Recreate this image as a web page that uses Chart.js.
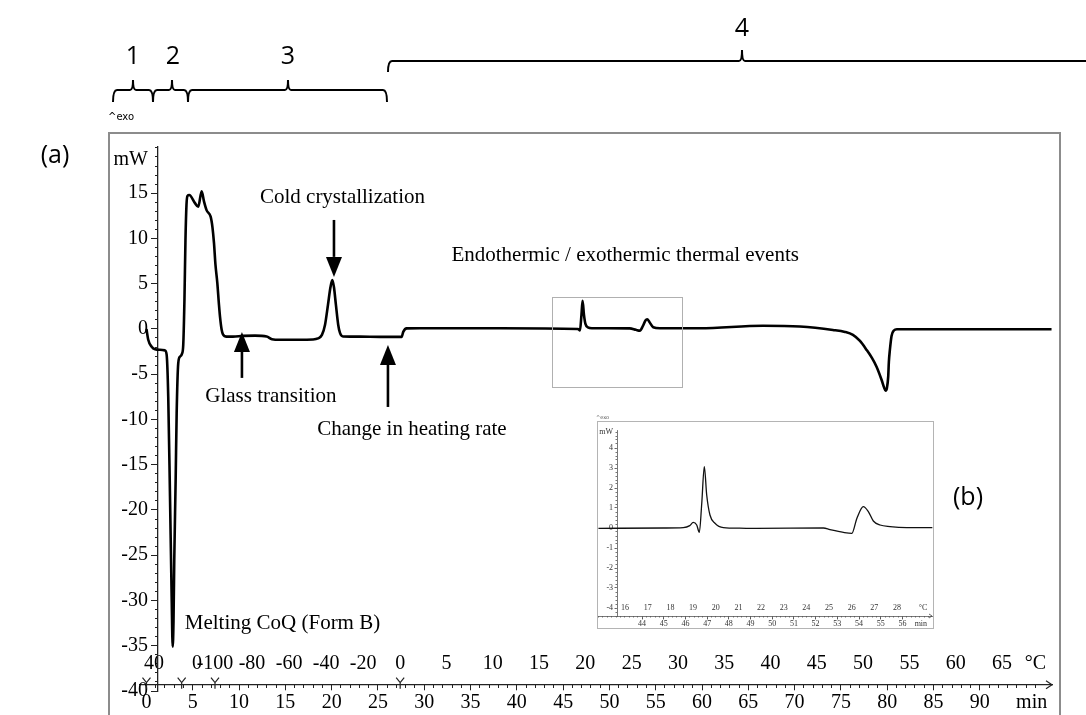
<!DOCTYPE html>
<html><head><meta charset="utf-8">
<script src="https://cdn.jsdelivr.net/npm/chart.js@4.4.1/dist/chart.umd.min.js"></script>
<style>
html,body{margin:0;padding:0;background:#fff;}
#wrap{position:relative;width:1086px;height:715px;overflow:hidden;background:#fff;}
#main{position:absolute;left:0;top:0;}
#insetBox{position:absolute;left:597px;top:421px;width:335px;height:206px;border:1px solid #b4b4b4;background:#fff;}
#inset{position:absolute;left:0;top:0;}
</style></head><body>
<div id="wrap">
<canvas id="main" width="1086" height="715"></canvas>
<div id="insetBox"><canvas id="inset" width="335" height="206"></canvas></div>
</div>
<script>
// ---------- main DSC curve (time in min, heat flow in mW) ----------
const timeMin = [0, 0.19, 0.56, 0.92, 1.46, 2.0, 2.18, 2.35, 2.54, 2.72, 2.83, 2.92, 3.0, 3.15, 3.26, 3.43, 3.62, 3.83, 3.97, 4.1, 4.21, 4.32, 4.43, 4.62, 5.24, 5.59, 5.96, 6.21, 6.5, 6.93, 7.13, 7.29, 7.45, 7.65, 7.83, 7.94, 8.12, 8.26, 8.66, 9.34, 10.42, 11.72, 12.98, 13.55, 14.42, 17.98, 18.52, 18.95, 19.28, 19.6, 19.87, 20.07, 20.25, 20.46, 20.71, 20.9, 21.22, 23.06, 25.22, 27.56, 27.73, 28.1, 29.54, 38.2, 46.6, 46.82, 46.98, 47.1, 47.25, 47.41, 47.68, 48.11, 52.2, 52.86, 53.29, 53.62, 53.89, 54.08, 54.32, 54.73, 55.45, 59.77, 66.58, 70.57, 74.14, 75.44, 76.3, 77.06, 77.78, 78.35, 78.85, 79.4, 79.64, 79.83, 79.97, 80.11, 80.18, 80.29, 80.47, 80.72, 81.05, 87.85, 97.75];
const heatFlowMW = [0, -1.2, -1.96, -2.24, -2.3, -2.37, -2.87, -7.5, -18.5, -29.6, -35.1, -32.2, -25.5, -16.7, -9.3, -3.8, -3.06, -2.76, -1.77, 3.2, 9.8, 13.7, 14.7, 14.8, 13.9, 13.5, 15.2, 14.1, 13.1, 12.4, 11.2, 9.5, 7.1, 5.1, 2.65, 1.36, -0.1, -0.6, -0.85, -0.85, -0.77, -0.74, -0.83, -1.14, -1.2, -1.16, -1.05, -0.66, 0.44, 2.65, 4.6, 5.4, 4.6, 2.65, 0.44, -0.44, -0.83, -0.85, -0.88, -0.88, -0.33, 0.06, 0.08, 0.08, 0, -0.17, 1.55, 3.1, 1.55, 0.55, 0.17, 0.08, 0.06, -0.1, -0.19, 0.33, 0.94, 1.07, 0.77, 0.19, 0.08, 0.08, 0.36, 0.27, -0.11, -0.33, -0.66, -1.33, -2.32, -3.2, -4.17, -5.64, -6.4, -6.82, -6.52, -5.27, -3.65, -2.32, -0.77, -0.17, -0.03, -0.03, -0.03];

// tick labels
const yTickValues = [-40, -35, -30, -25, -20, -15, -10, -5, 0, 5, 10, 15];
const xTickValues = [0, 5, 10, 15, 20, 25, 30, 35, 40, 45, 50, 55, 60, 65, 70, 75, 80, 85, 90];
// temperature program (time in min at which each temperature is reached)
const progTimeMin = [0.8, 5.45, 7.4, 27.4, 97.4];
const progTempC = [40, 0, -100, 0, 70];
const tempLabelsBySegment = [[40], [0], [-100, -80, -60, -40, -20], [0, 5, 10, 15, 20, 25, 30, 35, 40, 45, 50, 55, 60, 65]];
const segmentMarksMin = [0, 3.8, 7.4, 27.4];

// ---------- inset (b) ----------
const insetTimeMin = [41.99, 45.0, 45.9, 46.2, 46.36, 46.52, 46.64, 46.75, 46.87, 46.98, 47.13, 47.36, 47.75, 48.5, 49.29, 52.36, 52.66, 53.28, 53.67, 53.9, 54.2, 54.43, 54.66, 54.97, 55.43, 56.2, 57.38];
const insetHeatFlowMW = [-0.02, 0.0, 0.02, 0.12, 0.28, 0.15, -0.22, 1.2, 3.07, 1.65, 0.65, 0.24, 0.02, -0.01, -0.02, 0.0, -0.08, -0.22, -0.27, 0.48, 1.07, 0.82, 0.35, 0.15, 0.07, 0.02, 0.02];
const insetXTickValues = [44, 45, 46, 47, 48, 49, 50, 51, 52, 53, 54, 55, 56];
const insetYTickValues = [-4, -3, -2, -1, 0, 1, 2, 3, 4];
const insetTempLabels = [16, 17, 18, 19, 20, 21, 22, 23, 24, 25, 26, 27, 28];
const insetProgTimeMin = [43.22, 55.75];
const insetProgTempC = [16, 28];

// ---------- layout constants ----------
const X_MIN = -0.7, X_MAX = 97.8, Y_MIN = -40, Y_MAX = 20.1, X_AXIS_AT = -39.3, Y_AXIS_AT = 1.24;
const SERIF = 'Liberation Serif, Times New Roman, serif';
const SANS = 'Open Sans, Liberation Sans, sans-serif';
const GAP = '\u2002'; // keeps y labels clear of the axis line

function tempTickList() {
  const out = [];
  tempLabelsBySegment.forEach((temps, s) => {
    const t0 = progTimeMin[s], t1 = progTimeMin[s + 1], T0 = progTempC[s], T1 = progTempC[s + 1];
    temps.forEach(T => out.push({ value: t0 + (T - T0) / (T1 - T0) * (t1 - t0), lbl: String(T) }));
  });
  return out;
}
function insetTempTickList() {
  const t0 = insetProgTimeMin[0], t1 = insetProgTimeMin[1], T0 = insetProgTempC[0], T1 = insetProgTempC[1];
  return insetTempLabels.map(T => ({ value: t0 + (T - T0) / (T1 - T0) * (t1 - t0), lbl: String(T) }));
}
function stepTicks(a, b, st) { const r = []; for (let v = a; v <= b + 1e-9; v += st) r.push({ value: +v.toFixed(4) }); return r; }
const hideUnitTick = c => (c.tick && c.tick.unit) ? 'rgba(0,0,0,0)' : '#222';

const annotations = [
  { text: 'Cold crystallization', t: 21.17, mW: 14.48 },
  { text: 'Glass transition', t: 13.44, mW: -7.51 },
  { text: 'Change in heating rate', t: 28.67, mW: -11.16 },
  { text: 'Endothermic / exothermic thermal events', t: 51.7, mW: 8.07 },
  { text: 'Melting CoQ (Form B)', t: 14.69, mW: -32.49 }
];
const arrows = [
  { t: 20.25, from: 12.04, to: 5.75 },
  { t: 10.31, from: -5.41, to: -0.33 },
  { t: 26.08, from: -8.62, to: -1.77 }
];
const zoomBox = { t0: 43.75, t1: 57.8, top: 3.54, bottom: -6.41 };

function bracket(ctx, x0, x1, xc, yb, hook, peak) {
  ctx.beginPath();
  ctx.moveTo(x0, yb + hook);
  ctx.quadraticCurveTo(x0, yb, x0 + 4, yb);
  ctx.lineTo(xc - 3, yb);
  ctx.quadraticCurveTo(xc, yb, xc, yb - peak);
  ctx.quadraticCurveTo(xc, yb, xc + 3, yb);
  ctx.lineTo(x1 - 4, yb);
  ctx.quadraticCurveTo(x1, yb, x1, yb + hook);
  ctx.stroke();
}

const decor = {
  id: 'decor',
  afterDraw(chart) {
    const { ctx, chartArea } = chart;
    const x = chart.scales.x, y = chart.scales.y;
    ctx.save();
    // outer frame
    ctx.strokeStyle = '#8c8c8c'; ctx.lineWidth = 2;
    ctx.strokeRect(109, 133, 951, 600);
    // brackets
    ctx.strokeStyle = '#000'; ctx.lineWidth = 2;
    bracket(ctx, 113, 153, 133, 90, 12, 10);
    bracket(ctx, 153, 188, 172, 90, 12, 10);
    bracket(ctx, 188, 387, 288, 90, 12, 10);
    bracket(ctx, 388, 1100, 742, 61, 11, 11);
    ctx.fillStyle = '#000'; ctx.textAlign = 'center'; ctx.textBaseline = 'middle';
    ctx.font = '25px ' + SANS;
    ctx.fillText('1', 133, 57); ctx.fillText('2', 173, 57); ctx.fillText('3', 288, 57); ctx.fillText('4', 742, 29);
    ctx.fillText('(a)', 55, 156);
    ctx.fillText('(b)', 968, 498);
    ctx.textAlign = 'left';
    ctx.font = '10px DejaVu Sans, sans-serif';
    ctx.fillText('^exo', 108, 117);
    ctx.font = '5px DejaVu Sans, sans-serif';
    ctx.fillStyle = '#555';
    ctx.fillText('^exo', 596, 418);
    // annotations
    ctx.fillStyle = '#000'; ctx.textAlign = 'center';
    ctx.font = '21px ' + SERIF;
    annotations.forEach(a => ctx.fillText(a.text, x.getPixelForValue(a.t), y.getPixelForValue(a.mW)));
    // arrows
    arrows.forEach(a => {
      const px = x.getPixelForValue(a.t), py0 = y.getPixelForValue(a.from), py1 = y.getPixelForValue(a.to);
      const dir = py1 > py0 ? 1 : -1, head = 20;
      ctx.lineWidth = 2.6; ctx.strokeStyle = '#000';
      ctx.beginPath(); ctx.moveTo(px, py0); ctx.lineTo(px, py1 - dir * head); ctx.stroke();
      ctx.beginPath(); ctx.moveTo(px, py1); ctx.lineTo(px - 8, py1 - dir * head); ctx.lineTo(px + 8, py1 - dir * head); ctx.closePath(); ctx.fill();
    });
    // zoom box
    ctx.strokeStyle = '#b0b0b0'; ctx.lineWidth = 1;
    const bx0 = x.getPixelForValue(zoomBox.t0), bx1 = x.getPixelForValue(zoomBox.t1);
    const by0 = y.getPixelForValue(zoomBox.top), by1 = y.getPixelForValue(zoomBox.bottom);
    ctx.strokeRect(Math.round(bx0) + 0.5, Math.round(by0) + 0.5, Math.round(bx1 - bx0), Math.round(by1 - by0));
    // segment markers and axis arrow
    const ay = y.getPixelForValue(X_AXIS_AT);
    ctx.strokeStyle = '#222'; ctx.lineWidth = 1.2;
    segmentMarksMin.forEach(t => {
      const px = x.getPixelForValue(t);
      ctx.beginPath(); ctx.moveTo(px - 4, ay - 7); ctx.lineTo(px, ay - 2); ctx.lineTo(px + 4, ay - 7);
      ctx.moveTo(px, ay - 2); ctx.lineTo(px, ay + 4); ctx.stroke();
    });
    ctx.beginPath(); ctx.moveTo(chartArea.right - 6, ay - 4); ctx.lineTo(chartArea.right, ay); ctx.lineTo(chartArea.right - 6, ay + 4); ctx.stroke();
    ctx.restore();
  }
};

new Chart(document.getElementById('main'), {
  type: 'line',
  data: { datasets: [{ data: timeMin.map((t, i) => ({ x: t, y: heatFlowMW[i] })), xAxisID: 'x', yAxisID: 'y', borderColor: '#000', borderWidth: 2.6, pointRadius: 0, fill: false, cubicInterpolationMode: 'monotone' }] },
  options: {
    responsive: false, animation: false, devicePixelRatio: 1,
    layout: { padding: { left: 140, top: 147, right: 34, bottom: 24 } },
    plugins: { legend: { display: false }, tooltip: { enabled: false } },
    scales: {
      x: {
        type: 'linear', axis: 'x', min: X_MIN, max: X_MAX, bounds: 'data', position: { y: X_AXIS_AT },
        afterBuildTicks: s => { s.ticks = xTickValues.map(v => ({ value: v })).concat([{ value: 95.6, unit: true }]); },
        ticks: { autoSkip: false, maxRotation: 0, padding: 1, color: '#000', font: { family: SERIF, size: 20 }, callback: (v, i, t) => t[i].unit ? 'min' : String(v) },
        grid: { drawOnChartArea: false, tickLength: 5, tickColor: hideUnitTick },
        border: { display: true, color: '#222', width: 1.3 }
      },
      xMinor: {
        type: 'linear', axis: 'x', min: X_MIN, max: X_MAX, bounds: 'data', position: { y: X_AXIS_AT },
        afterBuildTicks: s => { s.ticks = stepTicks(0, 96, 1); },
        ticks: { display: false }, grid: { drawOnChartArea: false, tickLength: 3, tickColor: '#222' }, border: { display: false }
      },
      xT: {
        type: 'linear', axis: 'x', min: X_MIN, max: X_MAX, bounds: 'data', position: { y: X_AXIS_AT },
        afterBuildTicks: s => { s.ticks = tempTickList().concat([{ value: 96.0, lbl: '°C' }]); },
        ticks: { autoSkip: false, maxRotation: 0, padding: -33, color: '#000', font: { family: SERIF, size: 20 }, callback: (v, i, t) => t[i].lbl },
        grid: { display: false, drawTicks: false }, border: { display: false }
      },
      y: {
        type: 'linear', axis: 'y', min: Y_MIN, max: Y_MAX, bounds: 'data', position: { x: Y_AXIS_AT },
        afterBuildTicks: s => { s.ticks = yTickValues.map(v => ({ value: v })).concat([{ value: 18.66, unit: true }]); },
        ticks: { autoSkip: false, padding: 2, color: '#000', font: { family: SERIF, size: 20 }, callback: (v, i, t) => (t[i].unit ? 'mW' : String(v)) + GAP },
        grid: { drawOnChartArea: false, tickLength: 6, tickColor: hideUnitTick },
        border: { display: true, color: '#222', width: 1.3 }
      },
      yMinor: {
        type: 'linear', axis: 'y', min: Y_MIN, max: Y_MAX, bounds: 'data', position: { x: Y_AXIS_AT },
        afterBuildTicks: s => { s.ticks = stepTicks(-40, 20, 1); },
        ticks: { display: false }, grid: { drawOnChartArea: false, tickLength: 3, tickColor: '#222' }, border: { display: false }
      }
    }
  },
  plugins: [decor]
});

// ---------- inset chart ----------
const IX_MIN = 41.97, IX_MAX = 57.41, IY_MIN = -4.4, IY_MAX = 4.9, IX_AXIS_AT = -4.4, IY_AXIS_AT = 42.85;
const insetArrow = {
  id: 'insetArrow',
  afterDraw(chart) {
    const { ctx, chartArea } = chart; const ay = chart.scales.y.getPixelForValue(IX_AXIS_AT);
    ctx.save(); ctx.strokeStyle = '#444'; ctx.lineWidth = 0.8;
    ctx.beginPath(); ctx.moveTo(chartArea.right - 4, ay - 2); ctx.lineTo(chartArea.right - 1, ay); ctx.lineTo(chartArea.right - 4, ay + 2); ctx.stroke();
    ctx.restore();
  }
};
const insetFont = { family: SERIF, size: 8 };
new Chart(document.getElementById('inset'), {
  type: 'line',
  data: { datasets: [{ data: insetTimeMin.map((t, i) => ({ x: t, y: insetHeatFlowMW[i] })), xAxisID: 'x', yAxisID: 'y', borderColor: '#111', borderWidth: 1.3, pointRadius: 0, fill: false, cubicInterpolationMode: 'monotone' }] },
  options: {
    responsive: false, animation: false, devicePixelRatio: 1,
    layout: { padding: { left: 0, top: 8, right: 0, bottom: 12 } },
    plugins: { legend: { display: false }, tooltip: { enabled: false } },
    scales: {
      x: {
        type: 'linear', axis: 'x', min: IX_MIN, max: IX_MAX, bounds: 'data', position: { y: IX_AXIS_AT },
        afterBuildTicks: s => { s.ticks = insetXTickValues.map(v => ({ value: v })).concat([{ value: 56.85, unit: true }]); },
        ticks: { autoSkip: false, maxRotation: 0, padding: 1, color: '#333', font: insetFont, callback: (v, i, t) => t[i].unit ? 'min' : String(v) },
        grid: { drawOnChartArea: false, tickLength: 2.5, tickColor: c => (c.tick && c.tick.unit) ? 'rgba(0,0,0,0)' : '#555' },
        border: { display: true, color: '#555', width: 0.8 }
      },
      xMinor: {
        type: 'linear', axis: 'x', min: IX_MIN, max: IX_MAX, bounds: 'data', position: { y: IX_AXIS_AT },
        afterBuildTicks: s => { s.ticks = stepTicks(42, 57.2, 0.2); },
        ticks: { display: false }, grid: { drawOnChartArea: false, tickLength: 1.5, tickColor: '#777' }, border: { display: false }
      },
      xT: {
        type: 'linear', axis: 'x', min: IX_MIN, max: IX_MAX, bounds: 'data', position: { y: IX_AXIS_AT },
        afterBuildTicks: s => { s.ticks = insetTempTickList().concat([{ value: 56.95, lbl: '°C' }]); },
        ticks: { autoSkip: false, maxRotation: 0, padding: -13, color: '#333', font: insetFont, callback: (v, i, t) => t[i].lbl },
        grid: { display: false, drawTicks: false }, border: { display: false }
      },
      y: {
        type: 'linear', axis: 'y', min: IY_MIN, max: IY_MAX, bounds: 'data', position: { x: IY_AXIS_AT },
        afterBuildTicks: s => { s.ticks = insetYTickValues.map(v => ({ value: v })).concat([{ value: 4.8, unit: true }]); },
        ticks: { autoSkip: false, padding: 1, color: '#333', font: insetFont, callback: (v, i, t) => (t[i].unit ? 'mW' : String(v)) + GAP },
        grid: { drawOnChartArea: false, tickLength: 2.5, tickColor: c => (c.tick && c.tick.unit) ? 'rgba(0,0,0,0)' : '#555' },
        border: { display: true, color: '#555', width: 0.8 }
      },
      yMinor: {
        type: 'linear', axis: 'y', min: IY_MIN, max: IY_MAX, bounds: 'data', position: { x: IY_AXIS_AT },
        afterBuildTicks: s => { s.ticks = stepTicks(-4.4, 4.8, 0.2); },
        ticks: { display: false }, grid: { drawOnChartArea: false, tickLength: 1.5, tickColor: '#777' }, border: { display: false }
      }
    }
  },
  plugins: [insetArrow]
});
</script>
</body></html>
